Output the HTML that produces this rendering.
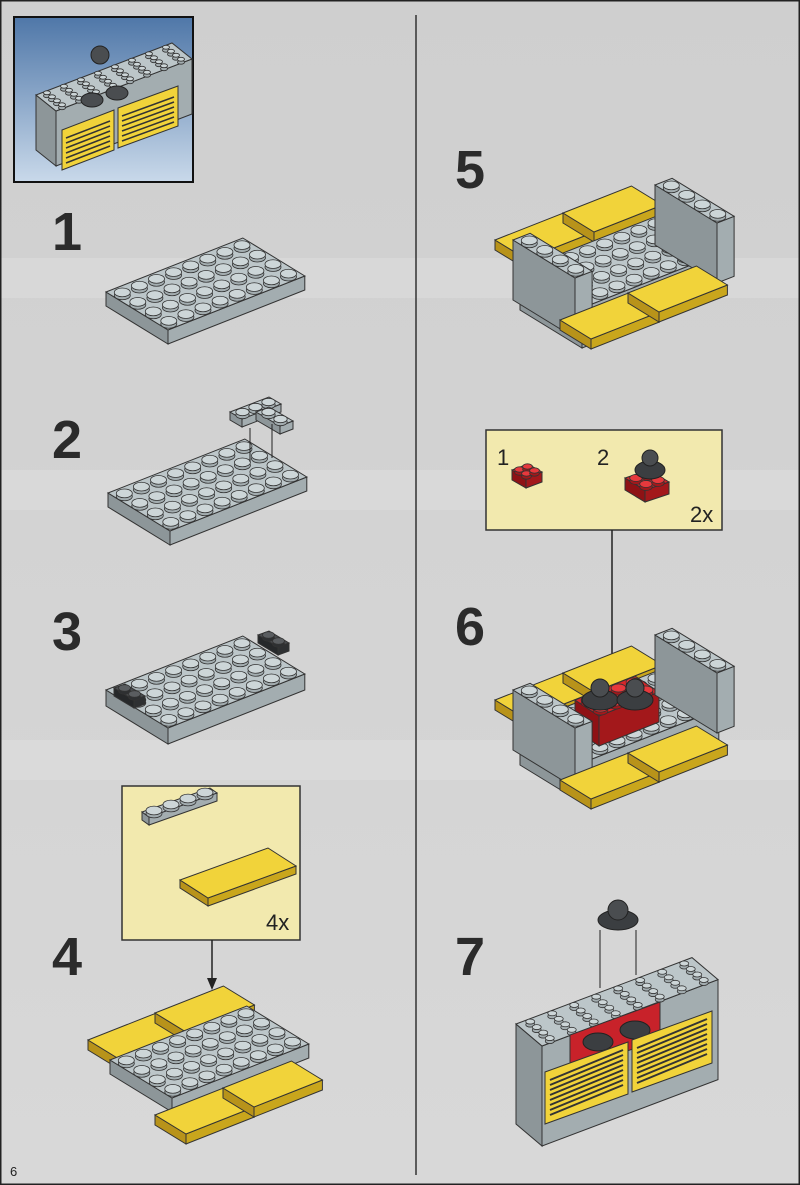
<!DOCTYPE html>
<html><head><meta charset="utf-8">
<style>
html,body{margin:0;padding:0;background:#d3d3d3;}
#wrap{position:relative;width:800px;height:1185px;overflow:hidden;background:#d2d2d2;}
svg{position:absolute;left:0;top:0;}
.num{font-family:"Liberation Sans",sans-serif;font-weight:bold;font-size:54px;fill:#2b2b2b;}
.sm{font-family:"Liberation Sans",sans-serif;font-size:22px;fill:#222;}
</style></head><body>
<div id="wrap">
<svg id="s" width="800" height="1185" viewBox="0 0 800 1185" xmlns="http://www.w3.org/2000/svg">
<defs>
<linearGradient id="bg" x1="0" y1="0" x2="0" y2="1">
<stop offset="0" stop-color="#cfcfcf"/><stop offset="1" stop-color="#d8d8d8"/></linearGradient>
<linearGradient id="sky" x1="0" y1="0" x2="0" y2="1">
<stop offset="0" stop-color="#4f77a8"/><stop offset="1" stop-color="#c9d9ea"/></linearGradient>
</defs>
<rect width="800" height="1185" fill="url(#bg)"/>
<g fill="#dcdcdc" opacity="0.7">
<rect x="0" y="258" width="800" height="40"/>
<rect x="0" y="470" width="800" height="40"/>
<rect x="0" y="740" width="800" height="40"/>
</g>
<rect x="0.5" y="0.5" width="799" height="1184" fill="none" stroke="#222" stroke-width="2"/>
<line x1="416" y1="15" x2="416" y2="1175" stroke="#333" stroke-width="1.5"/>
<rect x="14" y="17" width="179" height="165" fill="url(#sky)" stroke="#111" stroke-width="2"/>
<text class="num" x="52" y="250">1</text>
<text class="num" x="52" y="458">2</text>
<text class="num" x="52" y="650">3</text>
<text class="num" x="52" y="975">4</text>
<text class="num" x="455" y="188">5</text>
<text class="num" x="455" y="645">6</text>
<text class="num" x="455" y="975">7</text>
<text x="10" y="1176" font-family="Liberation Sans,sans-serif" font-size="13" fill="#222">6</text>
<rect x="122" y="786" width="178" height="154" fill="#f2e9ae" stroke="#333" stroke-width="1.5"/>
<text class="sm" x="266" y="930" font-size="18">4x</text>
<rect x="486" y="430" width="236" height="100" fill="#f2e9ae" stroke="#333" stroke-width="1.5"/>
<text class="sm" x="497" y="465">1</text>
<text class="sm" x="597" y="465">2</text>
<text class="sm" x="690" y="522" font-size="18">2x</text>
<line x1="212" y1="940" x2="212" y2="985" stroke="#222" stroke-width="1.5"/>
<polygon points="207,978 217,978 212,990" fill="#222"/>
<line x1="612" y1="530" x2="612" y2="680" stroke="#222" stroke-width="1.5"/>
<polygon points="607,673 617,673 612,685" fill="#222"/>
<g id="g"></g>
</svg>
</div>
<script>
var G=document.getElementById('g'),NS='http://www.w3.org/2000/svg';
function el(t,a){var e=document.createElementNS(NS,t);for(var k in a)e.setAttribute(k,a[k]);G.appendChild(e);return e;}
function pts(a){return a.map(function(p){return p[0].toFixed(1)+','+p[1].toFixed(1)}).join(' ');}
var GR={top:'#bcc6c9',side:'#a3adb0',side2:'#8d9699',stud:'#cdd6d8'};
var YE={top:'#f1d33a',side:'#c9a61c',side2:'#b8931a',stud:'#f5dc5c'};
var DK={top:'#4a4d50',side:'#2e3032',side2:'#26282a',stud:'#5a5d60'};
var RD={top:'#d8262a',side:'#a3181b',side2:'#8e1215',stud:'#e6393d'};
function block(p,a,b,n,m,h,c,studs,rr){
 var A=[p[0]+a[0]*n,p[1]+a[1]*n],B=[p[0]+b[0]*m,p[1]+b[1]*m],C=[A[0]+b[0]*m,A[1]+b[1]*m];
 el('polygon',{points:pts([p,B,[B[0],B[1]+h],[p[0],p[1]+h]]),fill:c.side2,stroke:'#333','stroke-width':1});
 el('polygon',{points:pts([B,C,[C[0],C[1]+h],[B[0],B[1]+h]]),fill:c.side,stroke:'#333','stroke-width':1});
 el('polygon',{points:pts([p,A,C,B]),fill:c.top,stroke:'#333','stroke-width':1});
 if(studs!==false){
  var rx=rr||Math.min(Math.abs(a[0])*0.36+2,8),ry=rx*0.55;
  for(var j=0;j<m;j++)for(var i=0;i<n;i++){
   var x=p[0]+a[0]*(i+.5)+b[0]*(j+.5),y=p[1]+a[1]*(i+.5)+b[1]*(j+.5);
   el('ellipse',{cx:x,cy:y+2,rx:rx,ry:ry,fill:c.side,stroke:'#333','stroke-width':0.8});
   el('ellipse',{cx:x,cy:y-1,rx:rx,ry:ry,fill:c.stud,stroke:'#333','stroke-width':0.8});
  }}
}
var a=[17.1,-6.75],b=[15.5,9.5];
block([106,292],a,b,8,4,14,GR);
block([108,493],a,b,8,4,14,GR);
block([230,412],[13,-5],[12,7],3,1,8,GR);block([256,412],[13,-5],[12,7],1,2,8,GR);
el('line',{x1:250,y1:428,x2:250,y2:462,stroke:'#222'});el('line',{x1:272,y1:424,x2:272,y2:458,stroke:'#222'});
block([106,690],a,b,8,4,16,GR);
block([114,688],[11,-4],[10,6],1,2,8,DK);block([258,635],[11,-4],[10,6],1,2,8,DK);
block([142,812],[17,-6],[7,5],4,1,8,GR);
block([180,880],[22,-8],[14,9],4,2,8,YE,false);
block([88,1040],a,b,4,2,10,YE,false);block([155,1013],a,b,4,2,10,YE,false);
block([110,1060],a,b,8,4,14,GR);
block([155,1115],a,b,4,2,10,YE,false);block([223,1088],a,b,4,2,10,YE,false);
block([495,240],a,b,4,2,10,YE,false);block([563,213],a,b,4,2,10,YE,false);
block([520,270],a,b,8,4,40,GR);
block([513,240],a,b,1,4,60,GR);block([655,185],a,b,1,4,60,GR);
block([560,320],a,b,4,2,10,YE,false);block([628,293],a,b,4,2,10,YE,false);
block([512,470],[8,-3],[7,4],2,2,10,RD);
block([625,478],[12,-4],[10,6],2,2,12,RD);
el('ellipse',{cx:650,cy:470,rx:15,ry:9,fill:'#3b3e41',stroke:'#222'});
el('circle',{cx:650,cy:458,r:8,fill:'#4a4d50',stroke:'#222'});
block([495,700],a,b,4,2,10,YE,false);block([563,673],a,b,4,2,10,YE,false);
block([520,725],a,b,8,4,40,GR);
block([575,700],[15,-6],[12,8],4,2,30,RD);
[600,635].forEach(function(x){el('ellipse',{cx:x,cy:700,rx:18,ry:10,fill:'#3b3e41',stroke:'#222'});el('circle',{cx:x,cy:688,r:9,fill:'#4a4d50',stroke:'#222'});});
block([513,690],a,b,1,4,60,GR);block([655,635],a,b,1,4,60,GR);
block([560,780],a,b,4,2,10,YE,false);block([628,753],a,b,4,2,10,YE,false);
var a7=[22,-8.3],b7=[6.5,5.5];
block([516,1024],a7,b7,8,4,100,GR,true,4.5);
el('polygon',{points:'570,1035 660,1002 660,1040 570,1070',fill:'#c8222a',stroke:'#333'});
el('ellipse',{cx:598,cy:1042,rx:15,ry:9,fill:'#3b3e41',stroke:'#222'});
el('ellipse',{cx:635,cy:1030,rx:15,ry:9,fill:'#3b3e41',stroke:'#222'});
function grille(x1,y1,x2,y2,h){
 el('polygon',{points:pts([[x1,y1],[x2,y2],[x2,y2+h],[x1,y1+h]]),fill:'#f1d33a',stroke:'#333'});
 for(var k=0;k<8;k++){el('line',{x1:x1+5,y1:y1+8+k*5,x2:x2-5,y2:y2+8+k*5,stroke:'#333','stroke-width':2});}
}
grille(545,1072,628,1042,52);grille(632,1040,712,1011,52);
el('ellipse',{cx:618,cy:920,rx:20,ry:10,fill:'#3b3e41',stroke:'#222'});
el('circle',{cx:618,cy:910,r:10,fill:'#4a4d50',stroke:'#222'});
el('line',{x1:600,y1:930,x2:600,y2:988,stroke:'#222'});el('line',{x1:636,y1:930,x2:636,y2:975,stroke:'#222'});
block([36,95],[17,-6.5],[5,4],8,4,55,GR,true,3.5);
el('polygon',{points:'62,130 114,110 114,150 62,170',fill:'#f1d33a',stroke:'#333'});
el('polygon',{points:'118,108 178,86 178,126 118,148',fill:'#f1d33a',stroke:'#333'});
for(var k=0;k<6;k++){el('line',{x1:66,y1:138+k*5,x2:110,y2:121+k*5,stroke:'#333','stroke-width':1.5});el('line',{x1:122,y1:116+k*5,x2:174,y2:97+k*5,stroke:'#333','stroke-width':1.5});}
el('circle',{cx:100,cy:55,r:9,fill:'#4a4d50',stroke:'#222'});
el('ellipse',{cx:92,cy:100,rx:11,ry:7,fill:'#4a4d50',stroke:'#222'});
el('ellipse',{cx:117,cy:93,rx:11,ry:7,fill:'#4a4d50',stroke:'#222'});
</script>
</body></html>
